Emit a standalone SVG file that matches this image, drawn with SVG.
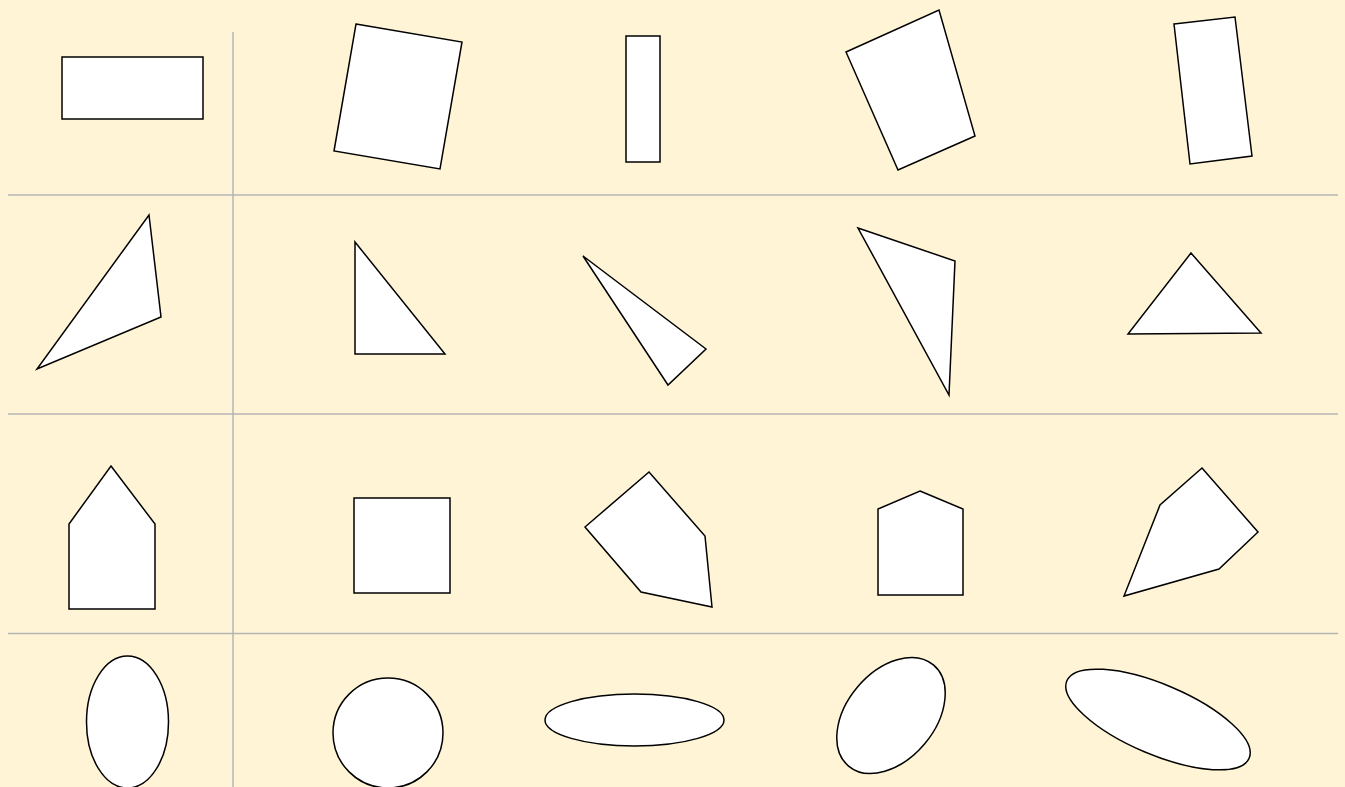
<svg xmlns="http://www.w3.org/2000/svg" width="1345" height="787" viewBox="0 0 1345 787">
<style>
.s{fill:#fff;stroke:#000;stroke-width:1.5;stroke-linejoin:miter}
.g{stroke:#b4b4b4;stroke-width:1.5;fill:none}
</style>
<rect width="1345" height="787" fill="#fff5d6"/>
<g id="grid">
<line class="g" x1="233" y1="32" x2="233" y2="787"/>
<line class="g" x1="8" y1="195" x2="1338" y2="195"/>
<line class="g" x1="8" y1="414" x2="1338" y2="414"/>
<line class="g" x1="8" y1="633.5" x2="1338" y2="633.5"/>
</g>
<g id="row1">
<rect id="r1c0" class="s" x="62" y="57" width="141" height="62"/>
<polygon id="r1c1" class="s" points="356,24 462,42 440,169 334,151"/>
<rect id="r1c2" class="s" x="626" y="36" width="34" height="126"/>
<polygon id="r1c3" class="s" points="846,52 939,10 975,136 898,170"/>
<polygon id="r1c4" class="s" points="1174,24 1235,17 1252,156 1190,164"/>
</g>
<g id="row2">
<polygon id="r2c0" class="s" points="149,215 161,317 37,369"/>
<polygon id="r2c1" class="s" points="355,242 445,354 355,354"/>
<polygon id="r2c2" class="s" points="583,256 706,349 668,385"/>
<polygon id="r2c3" class="s" points="858,228 955,261 949,395"/>
<polygon id="r2c4" class="s" points="1191,253 1261,333 1128,334"/>
</g>
<g id="row3">
<polygon id="r3c0" class="s" points="111,466 155,524 155,609 69,609 69,524"/>
<rect id="r3c1" class="s" x="354" y="498" width="96" height="95"/>
<polygon id="r3c2" class="s" points="649,472 705,536 712,607 641,592 585,527"/>
<polygon id="r3c3" class="s" points="920,491 963,509 963,595 878,595 878,509"/>
<polygon id="r3c4" class="s" points="1202,468 1258,532 1219,569 1124,596 1160,505"/>
</g>
<g id="row4">
<ellipse id="r4c0" class="s" cx="127.5" cy="722" rx="41" ry="66"/>
<circle id="r4c1" class="s" cx="388" cy="733" r="55"/>
<ellipse id="r4c2" class="s" cx="634.5" cy="720" rx="89.5" ry="26"/>
<ellipse id="r4c3" class="s" cx="891" cy="715.5" rx="66" ry="44" transform="rotate(-50 891 715.5)"/>
<ellipse id="r4c4" class="s" cx="1158" cy="719.5" rx="99" ry="35" transform="rotate(23 1158 719.5)"/>
</g>
</svg>
